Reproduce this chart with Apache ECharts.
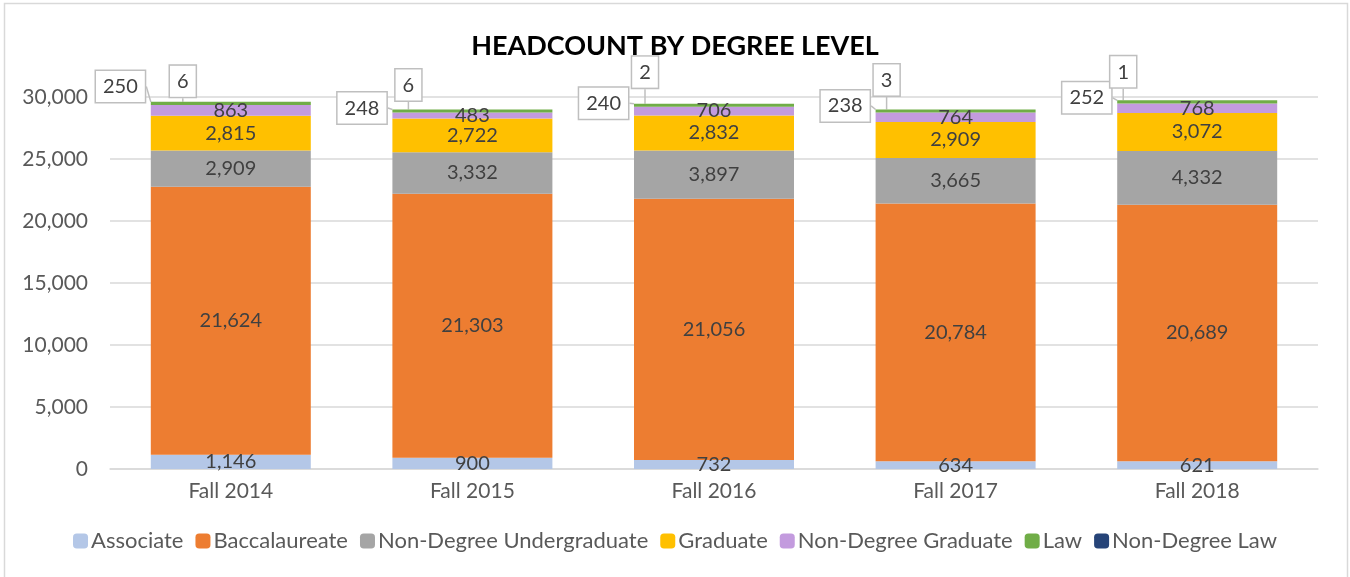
<!DOCTYPE html>
<html>
<head>
<meta charset="utf-8">
<script src="https://cdn.jsdelivr.net/npm/echarts@6/dist/echarts.min.js"></script>
<style>
html, body { margin: 0; padding: 0; background: #fff; }
#main { width: 1350px; height: 577px; }
</style>
</head>
<body>
<div id="main"></div>
<script>
var terms = ['Fall 2014', 'Fall 2015', 'Fall 2016', 'Fall 2017', 'Fall 2018'];
var associate = [1146, 900, 732, 634, 621];
var baccalaureate = [21624, 21303, 21056, 20784, 20689];
var nonDegreeUndergrad = [2909, 3332, 3897, 3665, 4332];
var graduate = [2815, 2722, 2832, 2909, 3072];
var nonDegreeGrad = [863, 483, 706, 764, 768];
var law = [250, 248, 240, 238, 252];
var nonDegreeLaw = [6, 6, 2, 3, 1];

// callout offsets (pixels) for the two thin top segments
var lawShift = [[-2, -17], [-2, -3], [-2, -2], [-2, -5], [-2, -4]];
var ndlShift = [[-48, -2], [-64, -6], [-69, -13], [-69, -11], [-74, -10]];

var fontName = 'Lato, "Open Sans", sans-serif';
var txt = '#404040';

var calloutLabel = {
    show: true,
    color: txt,
    fontSize: 20,
    fontFamily: fontName,
    backgroundColor: '#fff',
    borderColor: '#bfbfbf',
    borderWidth: 1.5,
    padding: [6, 7, 5, 7]
};

function mkSeries(name, values, color) {
    return {
        name: name,
        type: 'bar',
        stack: 'total',
        barWidth: 160,
        data: values,
        itemStyle: { color: color },
        label: {
            show: true,
            position: 'inside',
            color: txt,
            fontSize: 20,
            fontFamily: fontName,
            formatter: function(p) { return p.value.toLocaleString('en-US'); }
        }
    };
}

var series = [
    mkSeries('Associate', associate, '#b4c7e7'),
    mkSeries('Baccalaureate', baccalaureate, '#ed7d31'),
    mkSeries('Non-Degree Undergraduate', nonDegreeUndergrad, '#a5a5a5'),
    mkSeries('Graduate', graduate, '#ffc000'),
    mkSeries('Non-Degree Graduate', nonDegreeGrad, '#c39bde')
];

var lawSeries = mkSeries('Law', law, '#70ad47');
lawSeries.label = Object.assign({}, calloutLabel, { position: 'left', distance: 4 });
lawSeries.labelLayout = function(p) {
    var s = lawShift[p.dataIndex];
    return { dx: s[0], dy: s[1] };
};
lawSeries.labelLine = { show: true, lineStyle: { color: '#bfbfbf', width: 1.5 } };
series.push(lawSeries);

var ndlSeries = mkSeries('Non-Degree Law', nonDegreeLaw, '#264478');
ndlSeries.label = Object.assign({}, calloutLabel, { position: 'top', distance: 3 });
ndlSeries.labelLayout = function(p) {
    var s = ndlShift[p.dataIndex];
    return { dx: s[0], dy: s[1] };
};
ndlSeries.labelLine = { show: true, lineStyle: { color: '#bfbfbf', width: 1.5 } };
series.push(ndlSeries);

var myChart = echarts.init(document.getElementById('main'));

var option = {
    animation: false,
    title: {
        text: 'HEADCOUNT BY DEGREE LEVEL',
        left: 'center',
        top: 28,
        textStyle: { fontSize: 27, fontWeight: 'bold', color: '#000', fontFamily: fontName }
    },
    legend: {
        bottom: 20,
        left: 'center',
        itemWidth: 15,
        itemHeight: 15,
        itemGap: 12,
        textStyle: { fontSize: 22, color: '#595959', fontFamily: fontName, padding: [0, 0, 0, -2] },
        data: ['Associate', 'Baccalaureate', 'Non-Degree Undergraduate', 'Graduate', 'Non-Degree Graduate', 'Law', 'Non-Degree Law']
    },
    grid: { left: 110, right: 32, top: 97, bottom: 108 },
    xAxis: {
        type: 'category',
        data: terms,
        axisLine: { lineStyle: { color: '#d9d9d9', width: 1.5 } },
        axisTick: { show: false },
        axisLabel: { fontSize: 21, color: '#595959', fontFamily: fontName, margin: 12 }
    },
    yAxis: {
        type: 'value',
        min: 0,
        max: 30000,
        interval: 5000,
        axisLine: { show: false },
        axisTick: { show: false },
        splitLine: { lineStyle: { color: '#d9d9d9', width: 1.5 } },
        axisLabel: {
            fontSize: 21, color: '#595959', fontFamily: fontName, margin: 22,
            formatter: function(v) { return v.toLocaleString('en-US'); }
        }
    },
    graphic: [{
        type: 'rect',
        shape: { x: 4.5, y: 3.5, width: 1343, height: 580 },
        style: { fill: null, stroke: '#d9d9d9', lineWidth: 1.5 },
        silent: true
    }],
    series: series
};

myChart.setOption(option);
</script>
</body>
</html>
